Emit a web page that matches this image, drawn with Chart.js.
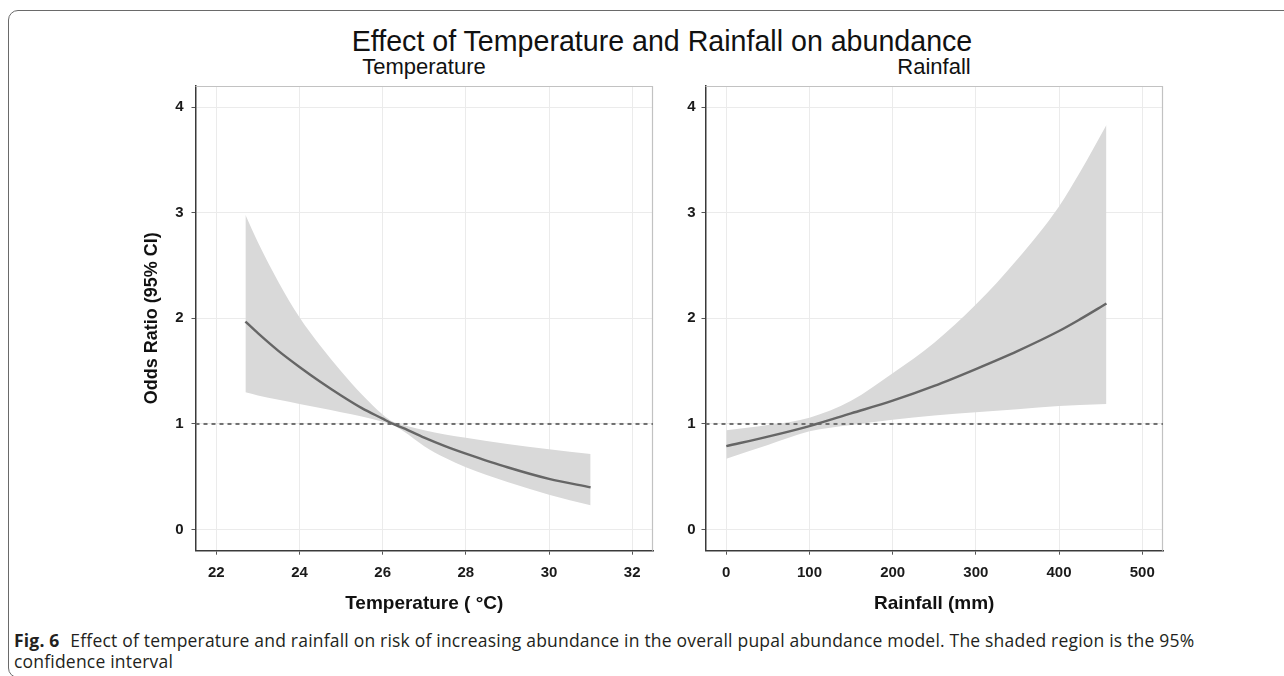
<!DOCTYPE html>
<html>
<head>
<meta charset="utf-8">
<script src="https://cdn.jsdelivr.net/npm/chart.js@4.4.1/dist/chart.umd.min.js"></script>
<style>
  body { margin: 0; width: 1284px; height: 676px; overflow: hidden; background: #fff; position: relative;
         font-family: "Liberation Sans", Arial, sans-serif; }
  .frame { position: absolute; left: 8px; top: 10px; width: 1320px; height: 666px;
           border: 1.5px solid #6a6a6a; border-radius: 10px; }
  .title { position: absolute; left: 0; width: 1324px; top: 25px; text-align: center; font-size: 28.6px; color: #111; }
  .sub { position: absolute; top: 54px; width: 300px; text-align: center; font-size: 22px; color: #111; }
  canvas { position: absolute; top: 80px; }
  .caption { position: absolute; left: 14px; top: 630px; font-family: "Open Sans", "Noto Sans", sans-serif;
             font-size: 17.5px; letter-spacing: 0.2px; line-height: 21px; color: #231f20; width: 1195px; }
  .caption b { font-weight: 700; margin-right: 6px; }
</style>
</head>
<body>
<div class="frame"></div>
<div class="title">Effect of Temperature and Rainfall on abundance</div>
<div class="sub" style="left:274px">Temperature</div>
<div class="sub" style="left:784px">Rainfall</div>
<canvas id="tempChart" width="545" height="540" style="left:120px"></canvas>
<canvas id="rainChart" width="545" height="540" style="left:630px"></canvas>
<div class="caption"><b>Fig. 6</b> Effect of temperature and rainfall on risk of increasing abundance in the overall pupal abundance model. The shaded region is the 95% confidence interval</div>

<script>
// temperature panel (deg C) - odds ratio with 95% CI
const tempX    = [22.7, 23, 23.5, 24, 24.5, 25, 25.5, 26, 26.25, 26.5, 27, 27.5, 28, 29, 30, 31];
const tempOR   = [1.97, 1.86, 1.69, 1.54, 1.40, 1.27, 1.15, 1.05, 1.00, 0.96, 0.87, 0.79, 0.72, 0.59, 0.48, 0.40];
const tempHigh = [2.98, 2.72, 2.34, 2.01, 1.74, 1.50, 1.28, 1.09, 1.02, 0.99, 0.94, 0.90, 0.87, 0.81, 0.76, 0.715];
const tempLow  = [1.30, 1.27, 1.23, 1.19, 1.15, 1.11, 1.07, 1.02, 0.99, 0.93, 0.79, 0.68, 0.59, 0.45, 0.33, 0.23];

// rainfall panel (mm)
const rainX    = [0, 50, 100, 150, 200, 250, 300, 350, 400, 425, 457];
const rainOR   = [0.79, 0.88, 0.98, 1.10, 1.22, 1.36, 1.52, 1.69, 1.88, 1.99, 2.14];
const rainHigh = [0.94, 0.99, 1.06, 1.22, 1.48, 1.77, 2.13, 2.56, 3.06, 3.38, 3.83];
const rainLow  = [0.67, 0.80, 0.93, 0.99, 1.04, 1.08, 1.11, 1.14, 1.17, 1.18, 1.19];

const tempTicks = [22, 24, 26, 28, 30, 32];
const rainTicks = [0, 100, 200, 300, 400, 500];
const orTicks = [0, 1, 2, 3, 4];
const refOR = 1;

const tempRange = [21.5, 32.5];
const rainRange = [-25, 525];
const orRange = [-0.2, 4.2];

function pts(xs, ys) {
    return xs.map((x, i) => ({ x: x, y: ys[i] }))
}

// light frame on top/right of the panel, like the ggplot panel border
const panelBorder = {
    id: 'panelBorder',
    beforeDatasetsDraw(chart) {
        const a = chart.chartArea
        const ctx = chart.ctx
        ctx.save()
        ctx.strokeStyle = '#c2c2c2'
        ctx.lineWidth = 1.2
        ctx.beginPath()
        ctx.moveTo(a.left, a.top + 0.5)
        ctx.lineTo(a.right - 0.5, a.top + 0.5)
        ctx.lineTo(a.right - 0.5, a.bottom)
        ctx.stroke()
        ctx.restore()
    }
}

function makeChart(id, xs, est, low, high, xTicks, xRange, xTitle, yTitle, yPad) {
    const tickFont = { family: 'Liberation Sans', size: 15, weight: 'bold' }
    return new Chart(document.getElementById(id), {
        type: 'line',
        data: {
            datasets: [
                {
                    // upper CI, filled down to the lower CI
                    data: pts(xs, high),
                    order: 3,
                    borderWidth: 0,
                    pointRadius: 0,
                    backgroundColor: '#d9d9d9',
                    fill: '+1',
                    cubicInterpolationMode: 'monotone'
                },
                {
                    data: pts(xs, low),
                    order: 2,
                    borderWidth: 0,
                    pointRadius: 0,
                    fill: false,
                    cubicInterpolationMode: 'monotone'
                },
                {
                    data: pts(xRange, [refOR, refOR]),
                    order: 1,
                    borderColor: '#6f6f6f',
                    borderWidth: 2,
                    borderDash: [4, 4],
                    pointRadius: 0,
                    fill: false
                },
                {
                    data: pts(xs, est),
                    order: 0,
                    borderColor: '#666666',
                    borderWidth: 2.4,
                    pointRadius: 0,
                    fill: false,
                    cubicInterpolationMode: 'monotone'
                }
            ]
        },
        options: {
            responsive: false,
            animation: false,
            layout: { autoPadding: false, padding: { left: 0, right: 12, top: 6, bottom: 0 } },
            plugins: { legend: { display: false }, tooltip: { enabled: false } },
            scales: {
                x: {
                    type: 'linear',
                    min: xRange[0],
                    max: xRange[1],
                    afterBuildTicks(scale) { scale.ticks = xTicks.map(v => ({ value: v })) },
                    afterFit(scale) {
                        scale.height = 69.3
                        scale.paddingLeft = 0
                        scale.paddingRight = 0
                    },
                    ticks: { font: tickFont, color: '#1a1a1a', padding: 9, maxRotation: 0 },
                    grid: { color: '#ebebeb', lineWidth: 1, tickLength: 4, tickColor: '#555' },
                    border: { color: '#3a3a3a', width: 1.5 },
                    title: {
                        display: true,
                        text: xTitle,
                        color: '#111',
                        font: { family: 'Liberation Sans', size: 19, weight: 'bold' },
                        padding: { top: 0, bottom: 5 }
                    }
                },
                y: {
                    type: 'linear',
                    min: orRange[0],
                    max: orRange[1],
                    afterBuildTicks(scale) { scale.ticks = orTicks.map(v => ({ value: v })) },
                    afterFit(scale) {
                        scale.width = 75.5
                        scale.paddingTop = 0
                        scale.paddingBottom = 0
                    },
                    ticks: { font: tickFont, color: '#1a1a1a', padding: yPad },
                    grid: { color: '#ebebeb', lineWidth: 1, tickLength: 4, tickColor: '#555' },
                    border: { color: '#3a3a3a', width: 1.5 },
                    title: {
                        display: !!yTitle,
                        text: yTitle,
                        color: '#111',
                        font: { family: 'Liberation Sans', size: 18, weight: 'bold' },
                        padding: { top: 21, bottom: 0 }
                    }
                }
            }
        },
        plugins: [panelBorder]
    })
}

makeChart('tempChart', tempX, tempOR, tempLow, tempHigh, tempTicks, tempRange, 'Temperature ( \u00B0C)', 'Odds Ratio (95% CI)', 8)
makeChart('rainChart', rainX, rainOR, rainLow, rainHigh, rainTicks, rainRange, 'Rainfall (mm)', '', 6)
</script>
</body>
</html>
